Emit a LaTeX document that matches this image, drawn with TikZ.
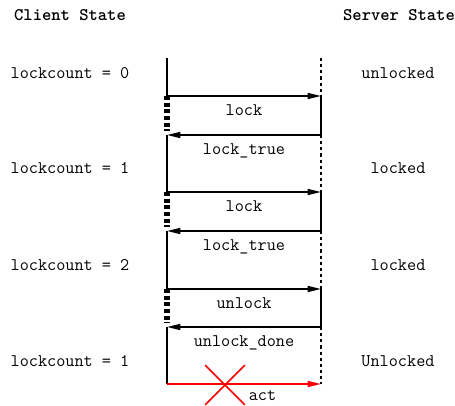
\documentclass[tikz,border=0pt]{standalone}
\usepackage{tikz}
\usetikzlibrary{arrows.meta, positioning, shapes.misc, calc}

\begin{document}
\begin{tikzpicture}[
    x=0.75pt, y=-0.75pt,
    lbl/.style={font=\fontsize{13.3}{15}\ttfamily, inner sep=1pt},
    head/.style={font=\fontsize{13.3}{15}\ttfamily\bfseries, inner sep=0pt},
    life/.style={line width=1.2pt},
    busy/.style={line width=4pt, dash pattern=on 3pt off 2pt},
    idle/.style={line width=1.4pt, dash pattern=on 2.4pt off 2.2pt},
    msg/.style={-{Triangle[length=10pt, width=4.5pt]}, line width=1.2pt},
    lost/.style={msg, red}
]
\useasboundingbox (0,0) rectangle (455,405);

% Headers
\node[head] (chead) at (70,15) {Client State};
\node[head] (shead) at (399,15) {Server State};

% Lifeline points
\coordinate (cTop) at (167,58);
\coordinate (sTop) at (321,58);
\coordinate (c1a) at (167,96);   \coordinate (s1a) at (321,96);
\coordinate (c1b) at (167,135);  \coordinate (s1b) at (321,135);
\coordinate (c2a) at (167,192);  \coordinate (s2a) at (321,192);
\coordinate (c2b) at (167,231);  \coordinate (s2b) at (321,231);
\coordinate (c3a) at (167,289);  \coordinate (s3a) at (321,289);
\coordinate (c3b) at (167,327);  \coordinate (s3b) at (321,327);
\coordinate (cEnd) at (167,384); \coordinate (sEnd) at (321,384);

% Client states
\node[lbl] (cs0) at (70,73) {lockcount = 0};
\node[lbl] (cs1) at (70,168) {lockcount = 1};
\node[lbl] (cs2) at (70,265) {lockcount = 2};
\node[lbl] (cs3) at (70,361) {lockcount = 1};

% Server states
\node[lbl] (ss0) at (398,73) {unlocked};
\node[lbl] (ss1) at (398,168) {locked};
\node[lbl] (ss2) at (398,265) {locked};
\node[lbl] (ss3) at (398,361) {Unlocked};

% Client lifeline
\draw[life] (cTop) -- (c1a);
\draw[life] (c1b) -- (c2a);
\draw[life] (c2b) -- (c3a);
\draw[life] (c3b) -- (cEnd);
\draw[busy] (c1a) -- ($(c1b)+(0,-4)$);
\draw[busy] (c2a) -- ($(c2b)+(0,-4)$);
\draw[busy] (c3a) -- ($(c3b)+(0,-4)$);

% Server lifeline
\draw[idle] (sTop) -- (s1a);
\draw[idle] (s1b) -- (s2a);
\draw[idle] (s2b) -- (s3a);
\draw[idle] (s3b) -- (sEnd);

% Messages
\draw[msg] (c1a) -- node[lbl, below=5pt] {lock} (s1a);
\draw[life] (s1a) -- (s1b);
\draw[msg] (s1b) -- node[lbl, below=5pt] {lock\_true} (c1b);

\draw[msg] (c2a) -- node[lbl, below=5pt] {lock} (s2a);
\draw[life] (s2a) -- (s2b);
\draw[msg] (s2b) -- node[lbl, below=5pt] {lock\_true} (c2b);

\draw[msg] (c3a) -- node[lbl, below=5pt] {unlock} (s3a);
\draw[life] (s3a) -- (s3b);
\draw[msg] (s3b) -- node[lbl, below=5pt] {unlock\_done} (c3b);

% Lost message
\draw[lost] (cEnd) -- node[lbl, below=3.5pt, pos=0.62, text=black] {act} (sEnd);
\node[cross out, draw=red, line width=1.2pt, minimum size=28.5pt, inner sep=0pt] (cut) at (225,385) {};

\end{tikzpicture}
\end{document}
